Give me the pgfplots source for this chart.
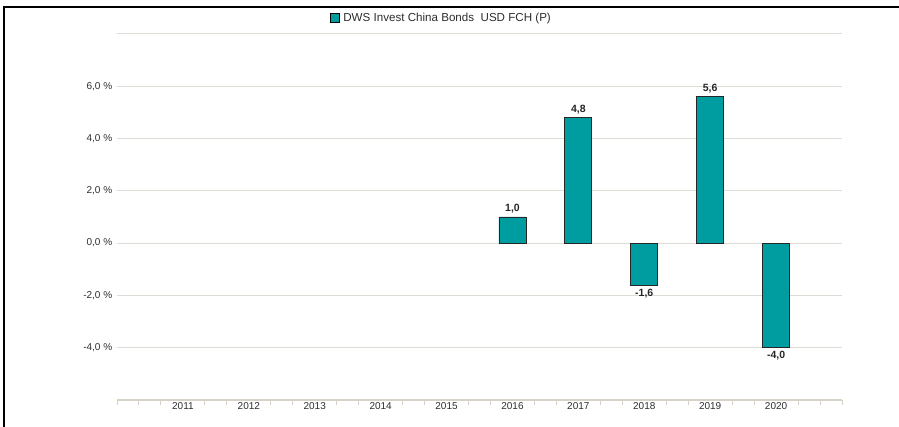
\documentclass[border=0pt]{standalone}
\usepackage{fontspec}
\setmainfont{Liberation Sans}
\usepackage{pgfplots}
\pgfplotsset{compat=1.18}
\definecolor{barfill}{RGB}{0,157,160}
\definecolor{gridc}{RGB}{222,220,212}
\definecolor{axisc}{RGB}{214,210,198}
\definecolor{labc}{RGB}{45,45,45}
\begin{document}
\begin{tikzpicture}[x=1pt,y=1pt]
\path[use as bounding box] (0,0) rectangle (899,427);
\begin{axis}[
  at={(117pt,27pt)}, anchor=south west,
  scale only axis, width=725pt, height=366pt,
  xmin=-1, xmax=10, ymin=-6, ymax=8,
  ybar, bar width=27pt,
  axis x line*=bottom, axis y line*=left,
  y axis line style={draw=none},
  x axis line style={axisc, line width=1.6pt},
  ytick={-4,-2,0,2,4,6,8},
  yticklabels={{-4,0 \%},{-2,0 \%},{0,0 \%},{2,0 \%},{4,0 \%},{6,0 \%},{}},
  ymajorgrids, major grid style={gridc, line width=1pt},
  major y tick style={draw=none},
  xtick={0,...,9},
  xticklabels={2011,2012,2013,2014,2015,2016,2017,2018,2019,2020},
  major x tick style={draw=none},
  minor xtick={-1,-0.6667,-0.3333,0.3333,0.6667,1.3333,1.6667,2.3333,2.6667,3.3333,3.6667,4.3333,4.6667,5.3333,5.6667,6.3333,6.6667,7.3333,7.6667,8.3333,8.6667,9.3333,9.6667,10},
  minor x tick style={axisc, line width=1pt},
  minor tick length=5pt,
  tick align=outside,
  ticklabel style={font=\fontsize{10}{12}\selectfont, text=labc},
  xticklabel style={yshift=5pt},
  yticklabel style={xshift=3pt},
  /pgf/number format/assume math mode=true,
  clip=false,
  legend style={at={(axis description cs:0.293,1.044)}, anchor=west, draw=none, fill=none,
    font=\fontsize{11.6}{13}\selectfont, text=labc, inner sep=0pt},
  legend image code/.code={\draw[fill=barfill,draw=black,line width=0.7pt] (0pt,-4.5pt) rectangle (9pt,4.5pt);},
]
\addplot[fill=barfill, draw=black!85, line width=0.9pt,
  nodes near coords={\pgfmathprintnumber[fixed,fixed zerofill,precision=1,use comma,assume math mode=true]{\pgfplotspointmeta}},
  nodes near coords style={font=\fontsize{10.5}{12}\bfseries, text=black!85}]
  coordinates {(5,1.0) (6,4.8) (7,-1.6) (8,5.6) (9,-4.0)};
\addlegendentry{\hspace{2pt}DWS Invest China Bonds~~USD FCH (P)}
\end{axis}
\draw[line width=1.3pt, black] (4,0) -- (4,420) -- (899,420);
\end{tikzpicture}
\end{document}
